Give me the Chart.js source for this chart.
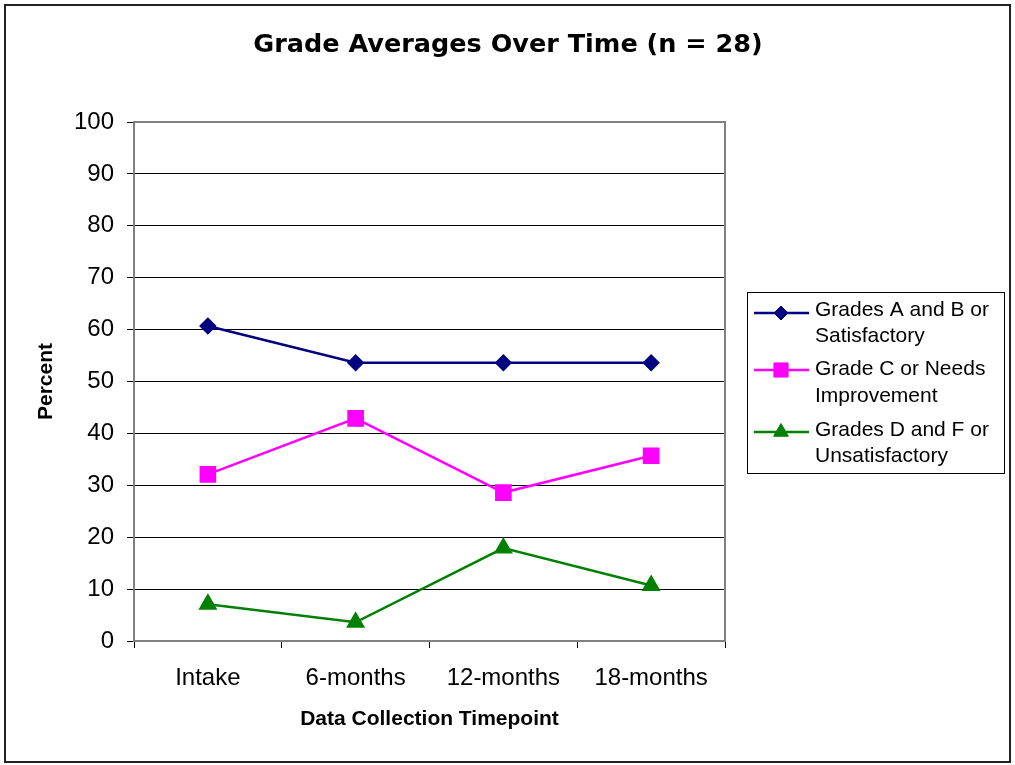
<!DOCTYPE html>
<html>
<head>
<meta charset="utf-8">
<script src="https://cdn.jsdelivr.net/npm/chart.js@4/dist/chart.umd.min.js"></script>
<style>
  html, body { margin: 0; padding: 0; background: #ffffff; }
  #wrap { width: 1015px; height: 765px; }
</style>
</head>
<body>
<div id="wrap"><canvas id="c" width="1015" height="765"></canvas></div>
<script>
const chartTitle = 'Grade Averages Over Time (n = 28)';
const xAxisTitle = 'Data Collection Timepoint';
const yAxisTitle = 'Percent';
const categories = ['Intake', '6-months', '12-months', '18-months'];
const gradesAB = [60.7, 53.6, 53.6, 53.6];
const gradeC = [32.1, 42.9, 28.6, 35.7];
const gradesDF = [7.1, 3.6, 17.9, 10.7];
const seriesLabels = ['Grades A and B or Satisfactory', 'Grade C or Needs Improvement', 'Grades D and F or Unsatisfactory'];
const legendLines = [['Grades A and B or', 'Satisfactory'], ['Grade C or Needs', 'Improvement'], ['Grades D and F or', 'Unsatisfactory']];
const yMin = 0, yMax = 100, yStep = 10;

const ARIAL = '"Liberation Sans", Arial, sans-serif';

function drawMarker(ctx, style, x, y, r, color) {
  ctx.save();
  ctx.fillStyle = color;
  ctx.strokeStyle = color;
  ctx.lineWidth = 1;
  ctx.beginPath();
  if (style === 'rectRot') {
    ctx.moveTo(x, y - r); ctx.lineTo(x + r, y); ctx.lineTo(x, y + r); ctx.lineTo(x - r, y); ctx.closePath();
  } else if (style === 'rect') {
    const s = r * Math.SQRT1_2;
    ctx.rect(x - s, y - s, 2 * s, 2 * s);
  } else {
    ctx.moveTo(x, y - r); ctx.lineTo(x + r * 0.866, y + r * 0.5); ctx.lineTo(x - r * 0.866, y + r * 0.5); ctx.closePath();
  }
  ctx.fill();
  ctx.stroke();
  ctx.restore();
}

const framePlugin = {
  id: 'frame',
  beforeDatasetsDraw(chart) {
    const { ctx, chartArea: a } = chart;
    ctx.save();
    ctx.strokeStyle = '#808080';
    ctx.lineWidth = 2;
    ctx.beginPath();
    ctx.moveTo(a.left, a.top);
    ctx.lineTo(a.right, a.top);
    ctx.lineTo(a.right, a.bottom);
    ctx.stroke();
    ctx.restore();
  },
  afterDraw(chart) {
    const ctx = chart.ctx;
    ctx.save();
    // outer border
    ctx.strokeStyle = '#222222';
    ctx.lineWidth = 2;
    ctx.strokeRect(5, 5, 1005, 757);
    // title
    ctx.fillStyle = '#000000';
    ctx.font = 'bold 25.5px "DejaVu Sans", Verdana, sans-serif';
    ctx.textAlign = 'center';
    ctx.textBaseline = 'middle';
    ctx.fillText(chartTitle, 508, 45);
    // legend box
    const bx = 747, by = 292, bw = 257, bh = 181;
    ctx.fillStyle = '#ffffff';
    ctx.fillRect(bx, by, bw, bh);
    ctx.strokeStyle = '#000000';
    ctx.lineWidth = 1;
    ctx.strokeRect(bx + 0.5, by + 0.5, bw, bh);
    const rowY = [313, 370, 432];
    const textY = [[310, 336], [369, 396], [430, 456]];
    ctx.font = '21px ' + ARIAL;
    ctx.textBaseline = 'middle';
    ctx.textAlign = 'left';
    chart.data.datasets.forEach((ds, i) => {
      const ly = rowY[i];
      ctx.strokeStyle = ds.borderColor;
      ctx.lineWidth = 2.5;
      ctx.beginPath();
      ctx.moveTo(754, ly);
      ctx.lineTo(809, ly);
      ctx.stroke();
      drawMarker(ctx, ds.pointStyle, 781, ly, ds.pointRadius, ds.borderColor);
      ctx.fillStyle = '#000000';
      ctx.fillText(legendLines[i][0], 815, textY[i][0]);
      ctx.fillText(legendLines[i][1], 815, textY[i][1]);
    });
    ctx.restore();
  }
};

new Chart(document.getElementById('c'), {
  type: 'line',
  data: {
    labels: categories,
    datasets: [
      { label: seriesLabels[0], data: gradesAB, borderColor: '#000080', backgroundColor: '#000080', pointStyle: 'rectRot', pointRadius: 7, pointHoverRadius: 7, borderWidth: 2.5, tension: 0 },
      { label: seriesLabels[1], data: gradeC, borderColor: '#FF00FF', backgroundColor: '#FF00FF', pointStyle: 'rect', pointRadius: 10, pointHoverRadius: 10, borderWidth: 2.5, tension: 0 },
      { label: seriesLabels[2], data: gradesDF, borderColor: '#008000', backgroundColor: '#008000', pointStyle: 'triangle', pointRadius: 8.5, pointHoverRadius: 8.5, borderWidth: 2.5, tension: 0 }
    ]
  },
  options: {
    responsive: false,
    animation: false,
    devicePixelRatio: 1,
    layout: { padding: { left: 0, right: 290, top: 122, bottom: 0 } },
    plugins: {
      legend: { display: false },
      tooltip: { enabled: false },
      title: { display: false }
    },
    scales: {
      x: {
        type: 'category',
        offset: true,
        afterFit(scale) { scale.height = 124; },
        grid: { offset: true, drawOnChartArea: false, drawTicks: true, tickLength: 7, color: '#000000', tickColor: '#000000', lineWidth: 1 },
        border: { display: true, color: '#808080', width: 2 },
        ticks: { color: '#000000', font: { family: ARIAL, size: 24 }, padding: 16, maxRotation: 0, autoSkip: false },
        title: { display: true, text: xAxisTitle, color: '#000000', font: { family: ARIAL, size: 21, weight: 'bold', lineHeight: 1.2 }, padding: { top: 0, bottom: 33 } }
      },
      y: {
        min: yMin,
        max: yMax,
        afterFit(scale) { scale.width = 134; },
        grid: {
          drawOnChartArea: true,
          drawTicks: true,
          tickLength: 7,
          color: (c) => (c.tick && (c.tick.value === yMin || c.tick.value === yMax)) ? 'rgba(0,0,0,0)' : '#000000',
          tickColor: '#000000',
          lineWidth: 1
        },
        border: { display: true, color: '#808080', width: 2 },
        ticks: { stepSize: yStep, color: '#000000', font: { family: ARIAL, size: 24 }, padding: 13 },
        title: { display: true, text: yAxisTitle, color: '#000000', font: { family: ARIAL, size: 21, weight: 'bold', lineHeight: 1.2 }, padding: { top: 34, bottom: 0 } }
      }
    }
  },
  plugins: [framePlugin]
});
</script>
</body>
</html>
